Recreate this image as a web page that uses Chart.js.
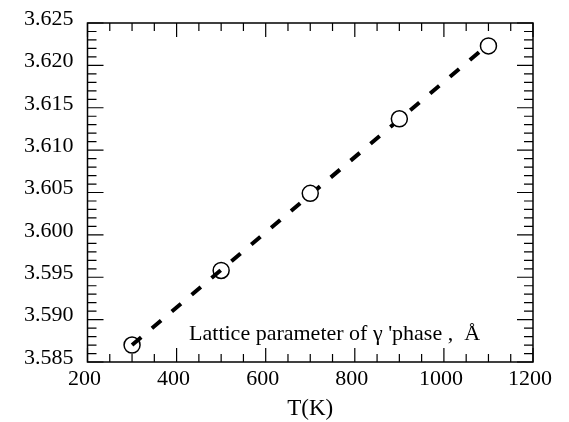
<!DOCTYPE html>
<html>
<head>
<meta charset="utf-8">
<script src="https://cdn.jsdelivr.net/npm/chart.js@4"></script>
<style>
  body { margin: 0; background: #fff; }
  canvas { display: block; }
</style>
</head>
<body>
<canvas id="myChart" width="569" height="422"></canvas>
<script>
// Data
const temps = [300, 500, 700, 900, 1100];
const latticeParam = [3.5870, 3.5958, 3.6049, 3.6137, 3.6223];

// dashed fit line, end points
const fitTemps = [300, 1080];
const fitParam = [3.5870, 3.6216];

// tick labels
const xTicks = [200, 400, 600, 800, 1000, 1200];
const yTicks = ['3.585', '3.590', '3.595', '3.600', '3.605', '3.610', '3.615', '3.620', '3.625'];

const noteText = "Lattice parameter of \u03b3 'phase ,  \u00c5";
const xTitle = 'T(K)';

const serif = '"Liberation Serif", "Times New Roman", serif';

// frame with inward ticks on all four sides + the note
const frameTicks = {
    id: 'frameTicks',
    afterDraw(chart) {
        const ctx = chart.ctx;
        const a = chart.chartArea;
        const xs = chart.scales.x;
        const ys = chart.scales.y;
        ctx.save();
        ctx.strokeStyle = '#000';
        ctx.lineWidth = 1.5;
        ctx.strokeRect(a.left, a.top, a.right - a.left, a.bottom - a.top);

        ctx.lineWidth = 1.2;
        ctx.beginPath();
        // x: minor every 50, major every 200
        for (let v = 200; v <= 1200; v += 50) {
            const px = xs.getPixelForValue(v);
            const len = (v % 200 === 0) ? 14 : 8;
            ctx.moveTo(px, a.bottom); ctx.lineTo(px, a.bottom - len);
            ctx.moveTo(px, a.top); ctx.lineTo(px, a.top + len);
        }
        // y: minor every 0.001, major every 0.005
        for (let i = 0; i <= 40; i++) {
            const py = ys.getPixelForValue(3.585 + i * 0.001);
            const len = (i % 5 === 0) ? 16 : 9;
            ctx.moveTo(a.left, py); ctx.lineTo(a.left + len, py);
            ctx.moveTo(a.right, py); ctx.lineTo(a.right - len, py);
        }
        ctx.stroke();

        ctx.fillStyle = '#000';
        ctx.font = '22px ' + serif;
        ctx.textBaseline = 'alphabetic';
        ctx.fillText(noteText, xs.getPixelForValue(428), ys.getPixelForValue(3.5876));
        ctx.restore();
    }
};

function renderChart() {
    const ctx = document.getElementById('myChart').getContext('2d');
    new Chart(ctx, {
        data: {
            datasets: [{
                type: 'scatter',
                data: temps.map((t, i) => ({ x: t, y: latticeParam[i] })),
                pointRadius: 8,
                pointHoverRadius: 8,
                borderWidth: 1.5,
                borderColor: '#000',
                backgroundColor: ['rgba(0,0,0,0)', 'rgba(0,0,0,0)', '#fff', '#fff', '#fff'],
            }, {
                type: 'line',
                data: fitTemps.map((t, i) => ({ x: t, y: fitParam[i] })),
                borderColor: '#000',
                borderWidth: 4,
                borderDash: [12, 14],
                borderCapStyle: 'butt',
                pointRadius: 0,
                fill: false,
            }]
        },
        options: {
            responsive: false,
            animation: false,
            layout: { padding: { left: 10, right: 36, top: 23, bottom: 0 } },
            plugins: {
                legend: { display: false },
                tooltip: { enabled: false }
            },
            scales: {
                x: {
                    type: 'linear',
                    min: 200,
                    max: 1200,
                    afterBuildTicks: s => { s.ticks = xTicks.map(v => ({ value: v })); },
                    afterFit: s => { s.paddingLeft = 0; s.paddingRight = 0; },
                    grid: { display: false, drawTicks: false },
                    border: { display: false },
                    ticks: {
                        padding: 4,
                        labelOffset: -3,
                        color: '#000',
                        font: { family: serif, size: 22 },
                        callback: v => String(v)
                    },
                    title: {
                        display: true,
                        text: xTitle,
                        color: '#000',
                        font: { family: serif, size: 23, lineHeight: 1 },
                        padding: { top: 0.6, bottom: 2 }
                    }
                },
                y: {
                    type: 'linear',
                    min: 3.585,
                    max: 3.625,
                    afterBuildTicks: s => { s.ticks = yTicks.map(v => ({ value: parseFloat(v) })); },
                    afterFit: s => { s.paddingTop = 0; s.paddingBottom = 0; },
                    grid: { display: false, drawTicks: false },
                    border: { display: false },
                    ticks: {
                        padding: 14,
                        labelOffset: -4,
                        color: '#000',
                        font: { family: serif, size: 22 },
                        callback: v => v.toFixed(3)
                    }
                }
            }
        },
        plugins: [frameTicks]
    });
}

document.addEventListener('DOMContentLoaded', renderChart);
</script>
</body>
</html>
